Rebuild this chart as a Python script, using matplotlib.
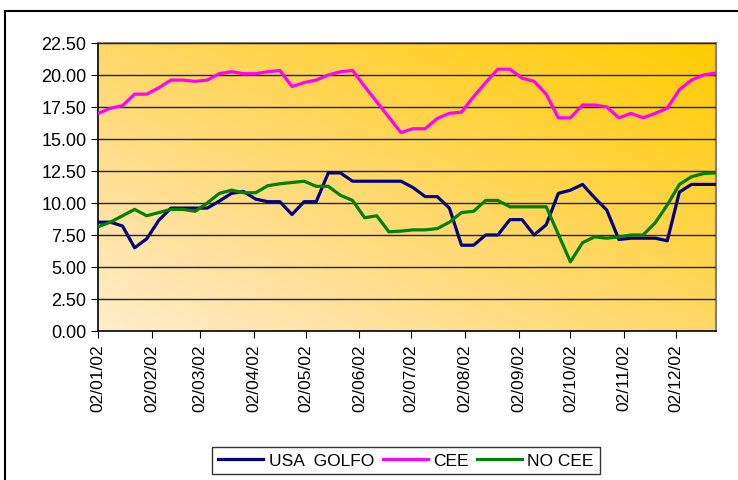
import numpy as np
import pandas as pd
import matplotlib
matplotlib.use("Agg")
import matplotlib.pyplot as plt
import matplotlib.dates as mdates
from matplotlib.patches import Rectangle

plt.rcParams['font.family'] = ['Liberation Sans', 'DejaVu Sans']

# weekly dates, 2002
dates = pd.date_range('2002-01-02', periods=52, freq='7D')

usa_golfo = [8.5, 8.5, 8.2, 6.5, 7.2, 8.65, 9.6, 9.6, 9.6, 9.6, 10.15, 10.75, 10.9,
             10.3, 10.1, 10.1, 9.1, 10.1, 10.1, 12.35, 12.35, 11.7, 11.7, 11.7, 11.7,
             11.7, 11.2, 10.5, 10.5, 9.6, 6.7, 6.7, 7.5, 7.5, 8.7, 8.7, 7.5, 8.3,
             10.75, 11.0, 11.45, 10.4, 9.45, 7.15, 7.25, 7.25, 7.25, 7.05, 10.85,
             11.45, 11.45, 11.45]
cee = [17.0, 17.4, 17.6, 18.5, 18.5, 19.0, 19.6, 19.6, 19.5, 19.6, 20.1, 20.25, 20.1,
       20.1, 20.25, 20.35, 19.1, 19.4, 19.6, 20.0, 20.25, 20.35, 19.1, 17.9, 16.7,
       15.5, 15.8, 15.8, 16.6, 17.0, 17.1, 18.3, 19.4, 20.45, 20.45, 19.75, 19.5,
       18.5, 16.65, 16.65, 17.65, 17.65, 17.5, 16.65, 17.0, 16.65, 17.0, 17.4,
       18.85, 19.6, 20.0, 20.15]
no_cee = [8.15, 8.5, 9.0, 9.5, 9.0, 9.25, 9.5, 9.5, 9.35, 10.0, 10.75, 11.0, 10.8,
          10.8, 11.35, 11.5, 11.6, 11.7, 11.3, 11.3, 10.6, 10.2, 8.85, 9.0, 7.75,
          7.8, 7.9, 7.9, 8.0, 8.5, 9.25, 9.35, 10.2, 10.2, 9.7, 9.7, 9.7, 9.7,
          7.55, 5.4, 6.9, 7.35, 7.25, 7.35, 7.5, 7.5, 8.45, 9.85, 11.45, 12.05,
          12.3, 12.35]

labels = ['USA  GOLFO', 'CEE', 'NO CEE']
colors = ['#000080', '#FF00FF', '#008000']

fig = plt.figure(figsize=(7.38, 4.81), dpi=100)
ax = fig.add_axes([0.1332, 0.3098, 0.8366, 0.5988])

# diagonal gradient background, light bottom-left to gold top-right
gx, gy = np.meshgrid(np.linspace(0, 1, 200), np.linspace(0, 1, 200))
t = (gx + gy) / 2
img = np.ones(t.shape + (3,))
img[..., 1] = 0.95 - 0.15 * t ** 0.55
img[..., 2] = 0.80 * (1 - t)
ax.imshow(img, extent=[0, 1, 0, 1], transform=ax.transAxes, origin='lower',
          aspect='auto', zorder=0)

for vals, lab, col in zip([usa_golfo, cee, no_cee], labels, colors):
    ax.plot(dates, vals, color=col, lw=2.3, label=lab, zorder=3)

ax.set_xlim(dates[0], dates[-1])
ax.set_ylim(0, 22.5)
ax.set_yticks(np.arange(0, 22.51, 2.5))
ax.yaxis.set_major_formatter(matplotlib.ticker.FormatStrFormatter('%.2f'))
ax.xaxis.set_major_locator(mdates.MonthLocator(bymonthday=2))
ax.xaxis.set_major_formatter(mdates.DateFormatter('%d/%m/%y'))
ax.tick_params(axis='x', rotation=90, labelsize=12.5, length=5, pad=4)
ax.tick_params(axis='y', labelsize=13, length=5)
ax.grid(axis='y', color='#222222', lw=1.0, zorder=1)
ax.set_axisbelow(False)

for s in ['top', 'right']:
    ax.spines[s].set_color('#808080')
    ax.spines[s].set_linewidth(1.5)
for s in ['left', 'bottom']:
    ax.spines[s].set_color('black')
    ax.spines[s].set_linewidth(1.2)

leg = fig.legend(loc='center', bbox_to_anchor=(0.5502, 0.0405), ncol=3,
                 fontsize=12.5, frameon=True, fancybox=False, edgecolor='black',
                 handlelength=2.6, handletextpad=0.3, columnspacing=0.5,
                 borderpad=0.35)
leg.get_frame().set_linewidth(1.0)

fig.patches.append(Rectangle((0.0068, -0.05), 1.2, 1.05 - 12 / 481,
                             transform=fig.transFigure, fill=False,
                             edgecolor='black', lw=1.5))

fig.savefig('out.png', dpi=100)
